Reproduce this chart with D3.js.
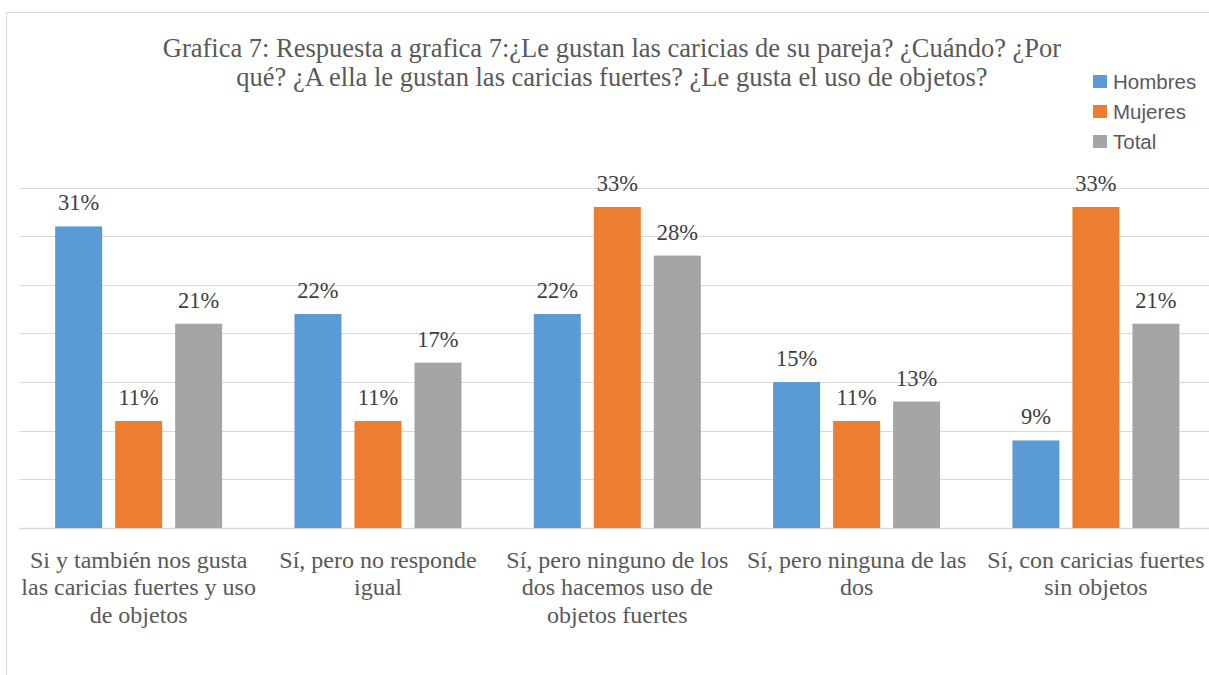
<!DOCTYPE html>
<html><head><meta charset="utf-8">
<script src="https://cdn.jsdelivr.net/npm/d3@7"></script>
<style>body{margin:0;background:#fff}svg{display:block}</style>
</head><body>
<svg id="c" width="1209" height="675"></svg>
<script>
const titleLines = ["Grafica 7: Respuesta a grafica 7:¿Le gustan las caricias de su pareja? ¿Cuándo? ¿Por",
  "qué? ¿A ella le gustan las caricias fuertes? ¿Le gusta el uso de objetos?"];
const categories = ["Si y también nos gusta\nlas caricias fuertes y uso\nde objetos",
  "Sí, pero no responde\nigual",
  "Sí, pero ninguno de los\ndos hacemos uso de\nobjetos fuertes",
  "Sí, pero ninguna de las\ndos",
  "Sí, con caricias fuertes\nsin objetos"];
const seriesNames = ["Hombres", "Mujeres", "Total"];
const hombres = [31, 22, 22, 15, 9];
const mujeres = [11, 11, 33, 11, 33];
const total = [21, 17, 28, 13, 21];
const colors = ["#5B9BD5", "#ED7D31", "#A5A5A5"];
const yTicks = [0, 5, 10, 15, 20, 25, 30, 35];

const svg = d3.select("#c");
const serif = "Liberation Serif";
const sans = "Liberation Sans";

svg.append("rect").attr("x", 6.5).attr("y", 12.5).attr("width", 1300).attr("height", 700)
  .attr("fill", "#fff").attr("stroke", "#d9d9d9").attr("stroke-width", 1);

const plotL = 19, plotR = 1215.6, plotT = 187.5, plotB = 528;
const x = d3.scaleBand().domain(categories).range([plotL, plotR]).paddingInner(0).paddingOuter(0);
const bw = x.bandwidth();
const x1 = d3.scalePoint().domain(seriesNames).range([-60, 60]);
const barW = 47;
const y = d3.scaleLinear().domain([0, 35]).range([plotB, plotT]);

// gridlines
svg.append("g").selectAll("line").data(yTicks).join("line")
  .attr("x1", plotL).attr("x2", plotR)
  .attr("y1", d => Math.round(y(d)) + 0.5).attr("y2", d => Math.round(y(d)) + 0.5)
  .attr("stroke", "#d9d9d9").attr("stroke-width", d => d === 0 ? 1.5 : 1);

const data = [hombres, mujeres, total];
data.forEach((vals, si) => {
  const g = svg.append("g");
  g.selectAll("rect").data(vals).join("rect")
    .attr("x", (d, i) => x(categories[i]) + bw / 2 + x1(seriesNames[si]) - barW / 2)
    .attr("y", d => y(d))
    .attr("width", barW)
    .attr("height", d => plotB - y(d))
    .attr("fill", colors[si]);
  g.selectAll("text").data(vals).join("text")
    .attr("x", (d, i) => x(categories[i]) + bw / 2 + x1(seriesNames[si]))
    .attr("y", d => y(d) - 16)
    .attr("text-anchor", "middle")
    .style("font-family", serif).style("font-size", "22.5px")
    .attr("fill", "#404040")
    .text(d => d + "%");
});

// category labels
const cat = svg.append("g");
categories.forEach(c => {
  const t = cat.append("text").attr("text-anchor", "middle")
    .style("font-family", serif).style("font-size", "24px").attr("fill", "#595959");
  c.split("\n").forEach((ln, li) => {
    t.append("tspan").attr("x", x(c) + bw / 2).attr("y", 567.5 + li * 27.5).text(ln);
  });
});

// title
const tt = svg.append("text").attr("text-anchor", "middle")
  .style("font-family", serif).style("font-size", "26.5px").attr("fill", "#595959");
titleLines.forEach((ln, i) => tt.append("tspan").attr("x", 612).attr("y", 57 + i * 29).text(ln));

// legend
const lg = svg.append("g");
seriesNames.forEach((s, i) => {
  lg.append("rect").attr("x", 1093).attr("y", 75 + i * 30).attr("width", 14).attr("height", 13).attr("fill", colors[i]);
  lg.append("text").attr("x", 1113).attr("y", 88.5 + i * 30)
    .style("font-family", sans).style("font-size", "20.5px").attr("fill", "#595959").text(s);
});
</script>
</body></html>
